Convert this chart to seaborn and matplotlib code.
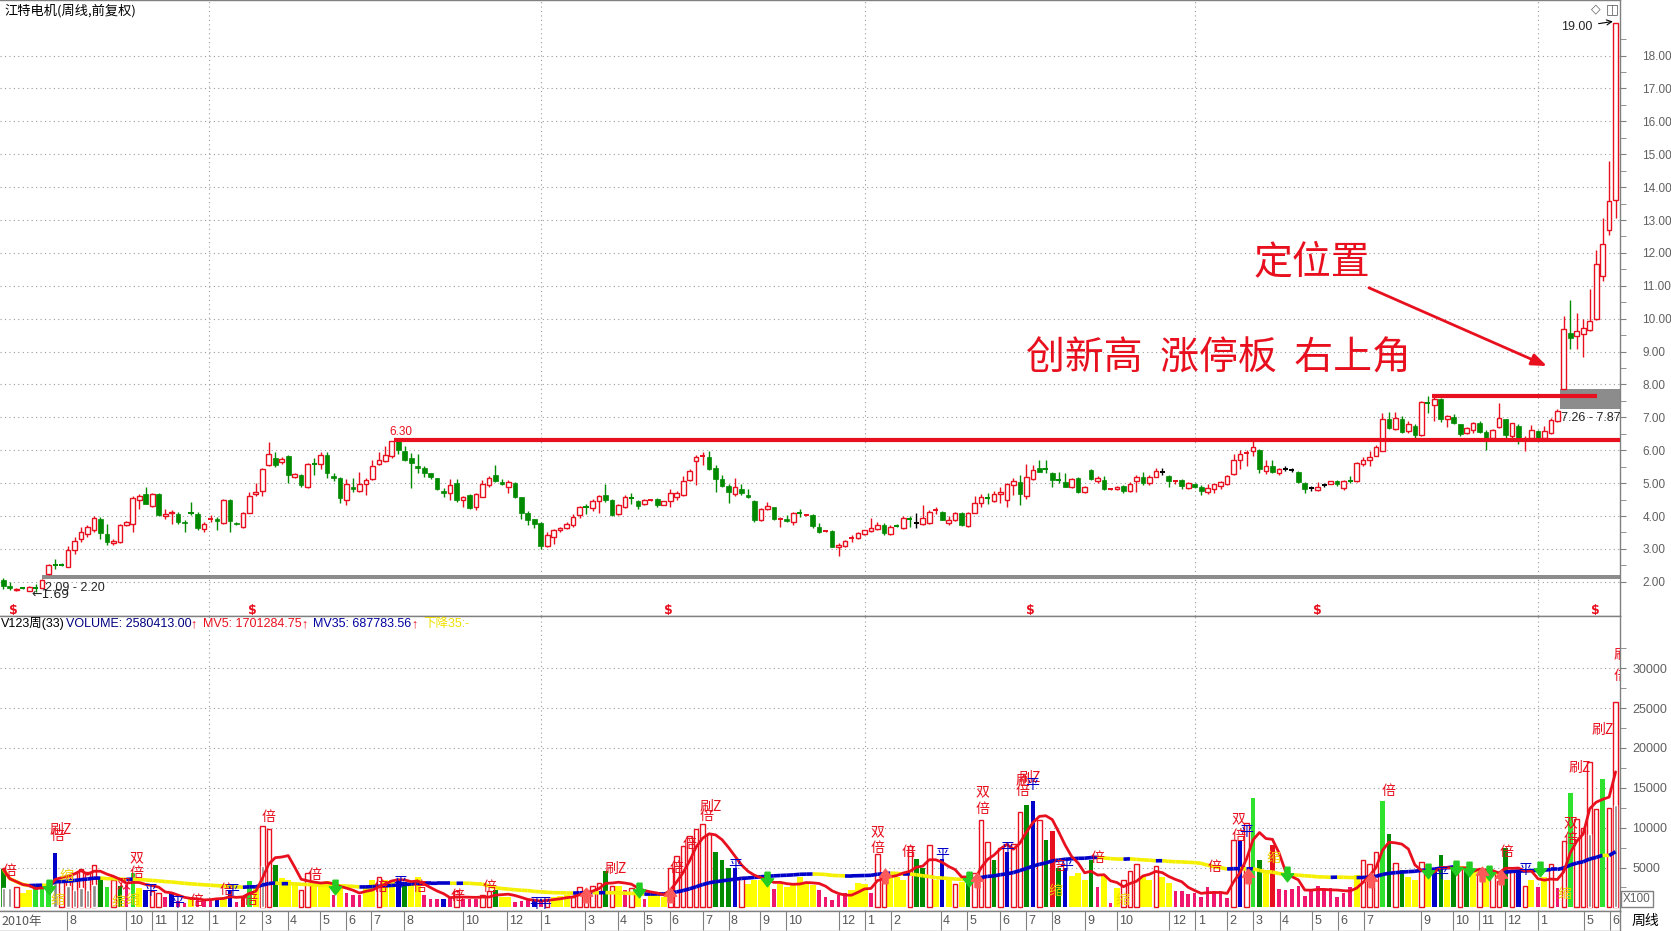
#!/usr/bin/env python3
# -*- coding: utf-8 -*-
"""
江特电机 周线 (前复权) K线 + V123 量能指标, 2010-2015
"""
import numpy as np
import pandas as pd
import seaborn as sns
import matplotlib.pyplot as plt
from matplotlib.collections import LineCollection

sns.set_style('white')
plt.rcParams['font.family'] = ['Noto Sans CJK SC', 'DejaVu Sans']
plt.rcParams['axes.unicode_minus'] = False

# ---------------- weekly candles ----------------
opens = [2.06, 1.88, 1.75, 1.81, 1.73, 1.83, 1.81, 2.24, 2.53, 2.53,
         2.46, 2.97, 3.29, 3.46, 3.58, 3.92, 3.44, 3.18, 3.21, 3.72,
         3.77, 4.50, 4.66, 4.30, 4.67, 3.99, 4.08, 4.07, 3.82, 4.11,
         4.07, 3.62, 3.91, 3.92, 3.79, 4.50, 3.80, 3.67, 4.10, 4.66,
         4.76, 5.54, 5.76, 5.63, 5.84, 5.20, 5.25, 4.87, 5.59, 5.59,
         5.87, 5.22, 5.15, 4.50, 4.89, 4.77, 4.98, 5.12, 5.59, 5.66,
         5.83, 6.27, 5.99, 5.76, 5.53, 5.46, 5.30, 5.15, 4.77, 4.69,
         5.00, 4.50, 4.64, 4.28, 4.59, 4.94, 5.25, 5.03, 4.89, 5.00,
         4.57, 4.08, 3.90, 3.79, 3.08, 3.36, 3.56, 3.65, 3.72, 4.02,
         4.29, 4.23, 4.46, 4.63, 4.50, 4.06, 4.26, 4.55, 4.45, 4.38,
         4.47, 4.52, 4.35, 4.46, 4.59, 4.64, 5.08, 5.66, 5.80, 5.78,
         5.45, 5.13, 4.91, 4.66, 4.82, 4.64, 4.46, 3.87, 4.20, 4.26,
         3.91, 3.90, 3.82, 4.09, 4.01, 4.02, 3.67, 3.52, 3.53, 3.05,
         3.10, 3.32, 3.34, 3.44, 3.54, 3.60, 3.72, 3.46, 3.70, 3.65,
         3.93, 3.79, 3.77, 3.79, 4.17, 4.13, 3.79, 3.89, 4.10, 3.69,
         4.10, 4.40, 4.55, 4.45, 4.67, 4.50, 4.94, 5.03, 4.61, 5.12,
         5.46, 5.45, 5.30, 5.11, 5.03, 4.87, 5.15, 4.72, 5.41, 5.07,
         5.10, 4.82, 4.82, 4.91, 4.77, 5.05, 5.18, 5.00, 5.20, 5.35,
         5.22, 5.06, 5.08, 4.84, 4.98, 4.89, 4.74, 4.81, 4.91, 4.97,
         5.27, 5.69, 5.91, 5.97, 6.02, 5.38, 5.51, 5.30, 5.44, 5.40,
         5.35, 5.00, 4.84, 4.79, 4.94, 4.98, 5.05, 4.84, 5.06, 5.05,
         5.58, 5.69, 5.84, 5.99, 6.96, 6.65, 6.96, 6.58, 6.75, 6.45,
         7.44, 7.37, 7.57, 6.96, 7.02, 6.79, 6.53, 6.61, 6.84, 6.56,
         6.38, 6.71, 6.94, 6.43, 6.75, 6.30, 6.38, 6.60, 6.38, 6.51,
         6.89, 7.87, 9.58, 9.47, 9.54, 9.65, 9.98, 11.30, 12.69, 13.62]
closes = [1.88, 1.81, 1.78, 1.80, 1.85, 1.82, 2.06, 2.51, 2.52, 2.52,
          2.97, 3.24, 3.51, 3.67, 3.94, 3.48, 3.21, 3.24, 3.74, 3.82,
          4.54, 4.60, 4.38, 4.67, 4.02, 4.07, 4.12, 3.82, 3.78, 4.10,
          3.65, 3.75, 3.92, 3.85, 4.50, 3.85, 3.76, 4.10, 4.61, 4.74,
          5.43, 5.89, 5.56, 5.74, 5.25, 5.27, 4.94, 5.58, 5.58, 5.87,
          5.32, 5.17, 4.54, 4.97, 4.81, 4.97, 5.10, 5.52, 5.69, 5.85,
          6.27, 6.00, 5.71, 5.61, 5.46, 5.32, 5.18, 4.82, 4.69, 4.94,
          4.48, 4.59, 4.23, 4.66, 4.97, 5.17, 5.05, 4.98, 5.03, 4.57,
          4.10, 3.87, 3.75, 3.10, 3.41, 3.56, 3.64, 3.77, 3.97, 4.26,
          4.28, 4.46, 4.62, 4.48, 4.02, 4.33, 4.57, 4.54, 4.30, 4.50,
          4.48, 4.33, 4.45, 4.69, 4.69, 5.07, 5.37, 5.78, 5.81, 5.44,
          5.13, 4.91, 4.72, 4.87, 4.69, 4.57, 3.89, 4.21, 4.30, 3.92,
          3.92, 3.85, 4.10, 4.08, 4.02, 3.69, 3.51, 3.53, 3.07, 3.13,
          3.24, 3.33, 3.48, 3.56, 3.64, 3.72, 3.48, 3.67, 3.69, 3.94,
          3.92, 3.79, 3.95, 4.13, 4.18, 3.89, 3.89, 4.10, 3.72, 4.08,
          4.40, 4.59, 4.54, 4.67, 4.74, 4.97, 5.05, 4.66, 5.20, 5.41,
          5.35, 5.44, 5.08, 5.10, 4.89, 5.13, 4.74, 4.89, 5.12, 5.15,
          4.82, 4.83, 4.89, 4.76, 4.98, 5.18, 5.00, 5.18, 5.38, 5.35,
          5.05, 5.07, 4.91, 5.00, 4.87, 4.77, 4.86, 4.97, 5.02, 5.22,
          5.71, 5.90, 5.92, 6.10, 5.43, 5.53, 5.35, 5.43, 5.44, 5.40,
          5.02, 4.81, 4.84, 4.89, 4.94, 5.05, 4.97, 5.05, 5.05, 5.61,
          5.71, 5.79, 6.10, 6.94, 6.68, 6.99, 6.55, 6.80, 6.45, 7.48,
          7.43, 7.57, 6.94, 7.04, 6.82, 6.48, 6.68, 6.82, 6.55, 6.38,
          6.61, 6.99, 6.46, 6.82, 6.33, 6.31, 6.61, 6.35, 6.60, 6.92,
          7.19, 9.68, 9.40, 9.63, 9.71, 9.94, 11.65, 12.26, 13.59, 19.00]
highs = [2.13, 1.98, 1.80, 1.83, 1.87, 1.92, 2.09, 2.54, 2.69, 2.58,
         3.10, 3.36, 3.66, 3.72, 3.99, 3.97, 3.75, 3.31, 3.77, 3.84,
         4.61, 4.67, 4.89, 4.69, 4.69, 4.22, 4.17, 4.12, 3.89, 4.44,
         4.12, 3.82, 4.02, 3.97, 4.53, 4.53, 3.82, 4.12, 4.74, 5.01,
         5.46, 6.26, 5.96, 5.79, 5.86, 5.30, 5.27, 5.61, 5.76, 5.94,
         5.94, 5.30, 5.18, 5.12, 5.17, 5.35, 5.15, 5.69, 5.94, 6.12,
         6.28, 6.30, 6.12, 5.92, 5.88, 5.53, 5.32, 5.17, 4.84, 5.12,
         5.12, 4.61, 4.67, 4.69, 5.10, 5.22, 5.56, 5.12, 5.10, 5.02,
         4.59, 4.16, 3.92, 3.82, 3.51, 3.61, 3.67, 3.82, 4.07, 4.30,
         4.38, 4.53, 4.64, 4.97, 4.53, 4.38, 4.64, 4.69, 4.48, 4.53,
         4.50, 4.56, 4.47, 4.81, 4.76, 5.22, 5.43, 5.86, 5.96, 5.99,
         5.56, 5.25, 4.97, 5.15, 4.97, 4.82, 4.48, 4.23, 4.43, 4.28,
         3.97, 4.02, 4.13, 4.21, 4.05, 4.05, 3.80, 3.56, 3.56, 3.17,
         3.26, 3.41, 3.51, 3.58, 3.95, 3.82, 3.79, 3.72, 3.77, 3.99,
         3.99, 4.10, 4.33, 4.18, 4.28, 4.16, 3.99, 4.13, 4.13, 4.13,
         4.61, 4.66, 4.71, 4.77, 4.89, 5.00, 5.15, 5.25, 5.59, 5.56,
         5.69, 5.69, 5.33, 5.33, 5.30, 5.17, 5.20, 4.92, 5.43, 5.22,
         5.22, 4.86, 4.91, 4.94, 5.02, 5.25, 5.35, 5.25, 5.45, 5.45,
         5.25, 5.10, 5.12, 5.02, 5.00, 4.94, 4.97, 4.98, 5.05, 5.25,
         5.90, 6.00, 6.02, 6.27, 6.04, 5.71, 5.71, 5.46, 5.51, 5.45,
         5.38, 5.02, 4.90, 5.04, 5.00, 5.06, 5.10, 5.10, 5.22, 5.64,
         5.79, 5.97, 6.17, 7.13, 7.17, 7.17, 7.04, 6.88, 6.81, 7.50,
         7.66, 7.63, 7.60, 7.07, 7.09, 6.81, 6.71, 6.86, 6.89, 6.61,
         6.66, 7.43, 6.96, 6.84, 6.79, 6.43, 6.78, 6.63, 6.73, 6.99,
         7.26, 10.09, 10.58, 10.17, 10.00, 10.90, 12.09, 13.07, 14.78, 19.00]
lows = [1.78, 1.74, 1.73, 1.78, 1.72, 1.69, 1.80, 2.20, 2.39, 2.48,
        2.44, 2.85, 3.21, 3.36, 3.51, 3.31, 3.11, 3.11, 3.18, 3.70,
        3.51, 4.21, 4.36, 4.28, 3.99, 3.92, 3.77, 3.77, 3.51, 4.02,
        3.59, 3.51, 3.82, 3.56, 3.77, 3.51, 3.74, 3.65, 4.08, 4.61,
        4.61, 5.51, 5.49, 5.59, 5.00, 5.15, 4.89, 4.84, 5.25, 5.43,
        5.15, 5.05, 4.41, 4.33, 4.74, 4.74, 4.64, 5.08, 5.56, 5.63,
        5.76, 5.89, 5.66, 4.84, 5.30, 5.20, 5.12, 4.79, 4.58, 4.48,
        4.43, 4.28, 4.20, 4.18, 4.57, 4.89, 5.02, 4.95, 4.71, 4.54,
        3.92, 3.72, 3.65, 3.00, 3.05, 3.16, 3.51, 3.62, 3.67, 3.95,
        4.07, 4.16, 4.10, 4.43, 3.99, 4.02, 4.23, 4.36, 4.21, 4.33,
        4.45, 4.28, 4.33, 4.26, 4.49, 4.61, 5.05, 4.94, 5.56, 5.41,
        4.72, 4.89, 4.41, 4.61, 4.64, 4.54, 3.82, 3.85, 4.18, 3.87,
        3.67, 3.82, 3.72, 3.97, 3.99, 3.65, 3.48, 3.50, 3.05, 2.78,
        3.05, 3.21, 3.31, 3.41, 3.51, 3.56, 3.41, 3.43, 3.67, 3.61,
        3.67, 3.64, 3.72, 3.77, 4.06, 3.87, 3.74, 3.85, 3.69, 3.67,
        4.08, 4.26, 4.38, 4.43, 4.41, 4.26, 4.64, 4.33, 4.53, 5.10,
        5.33, 5.30, 4.87, 5.00, 4.87, 4.84, 4.71, 4.69, 5.08, 5.00,
        4.79, 4.79, 4.80, 4.71, 4.74, 4.74, 4.94, 4.94, 5.18, 5.25,
        4.89, 4.97, 4.82, 4.81, 4.84, 4.64, 4.67, 4.69, 4.81, 4.95,
        5.25, 5.43, 5.51, 5.84, 5.31, 5.28, 5.30, 5.25, 5.36, 5.35,
        5.00, 4.69, 4.75, 4.77, 4.88, 4.96, 4.90, 4.79, 5.00, 5.03,
        5.53, 5.51, 5.81, 5.97, 6.65, 6.63, 6.53, 6.53, 6.38, 6.43,
        7.14, 6.89, 6.86, 6.71, 6.79, 6.43, 6.48, 6.53, 6.53, 6.02,
        6.33, 6.68, 6.38, 6.38, 6.20, 5.97, 6.35, 6.31, 6.35, 6.48,
        6.86, 7.87, 9.07, 9.07, 8.82, 9.63, 9.95, 11.16, 12.53, 13.07]

# ---------------- weekly volume (X100) ----------------
vols = [4800, 2400, 2500, 1800, 2200, 2900, 2900, 2700, 6800, 3400,
        3800, 4300, 4800, 4500, 5300, 3800, 2500, 3400, 2700, 2800,
        4300, 2400, 2200, 2000, 1800, 1300, 1800, 800, 600, 1100,
        1100, 1100, 1000, 1100, 1300, 2200, 700, 1300, 3300, 2600,
        10200, 9800, 5300, 3700, 3500, 3000, 2200, 4300, 2900, 2900,
        3300, 1500, 2600, 1800, 1600, 1500, 2600, 3400, 3800, 3400,
        3400, 3400, 3200, 2800, 3800, 1500, 1100, 1100, 1100, 1300,
        2000, 1000, 1000, 1000, 1500, 2000, 2200, 1300, 1300, 700,
        800, 900, 800, 800, 1100, 1300, 1400, 1500, 1300, 2500,
        2200, 2700, 3100, 4600, 2700, 2700, 2200, 2400, 2200, 1100,
        1800, 1500, 1300, 5000, 6400, 7700, 8900, 9900, 10500, 9200,
        7000, 5900, 5000, 5000, 3800, 3000, 3400, 3400, 3600, 2300,
        3000, 2600, 3000, 3800, 3200, 2800, 2200, 1300, 900, 1500,
        1800, 2200, 3100, 3000, 1800, 6700, 3500, 4200, 3800, 3400,
        7700, 6100, 4900, 7800, 3400, 6100, 3500, 2900, 3200, 3400,
        4300, 11000, 8200, 5900, 7400, 7000, 8000, 12000, 12800, 13300,
        11000, 8400, 9600, 5000, 5000, 3900, 4300, 3500, 6000, 2600,
        4100, 500, 2400, 3400, 4600, 5500, 3800, 3500, 5200, 3800,
        3100, 2000, 2000, 1700, 1800, 1300, 2500, 2000, 1800, 1200,
        8500, 8300, 10600, 13700, 5900, 4700, 7800, 2300, 2200, 2300,
        2700, 1400, 2200, 2700, 2300, 2400, 1300, 1800, 2500, 4100,
        6000, 5500, 6900, 13300, 9200, 5600, 4700, 3800, 3400, 5700,
        4500, 4800, 6600, 3400, 5200, 4800, 4800, 4400, 4800, 4500,
        4600, 3300, 7400, 4700, 4700, 2700, 3400, 2500, 3800, 5400,
        2400, 8300, 14300, 11100, 10000, 18200, 12400, 16100, 12500, 25800]
# bar style per week: r hollow red, R red, g dark green, G bright green,
# y yellow, p pink, b blue
vol_kind = ("gGryyGGGbr" "rrrrrgGrgp" "Gybrrpbppy" "pppbybpRGy" "rrgyyyrryy"
            "ypypppyyry" "ybgyypppbp" "rppprrgyyp" "ppbpryyyrr" "rrrgrypryp"
            "yyyrrrrrrr" "gggbryyyyp" "yyyyyypppp" "pyyyprryyy" "rggrybyryg"
            "rrrgrbrrgb" "rgRgbyyygp" "ypyrrryyry" "yppppppppp" "rbrGgyRppp"
            "pppppppppy" "rrrGgrgyyr" "ybgygrgyry" "rrgrbrypyr" "prGrrrrGrr")
gray_week = [0, 1, 8, 10, 11, 12, 13, 14, 40, 245, 249]
gray_vol = [2400, 2400, 3400, 2700, 2200, 2400, 2200, 2800, 5200, 9200, 12900]

# volume signal tags
tag_txt = ['倍', '刷Z', '倍', '双', '双', '倍', '缩', '缩', '缩', '缩', '平', '平',
           '倍', '倍', '平', '倍', '倍', '倍', '倍', '平', '倍', '倍', '倍', '平', '平',
           '刷Z', '倍', '倍', '倍', '刷Z', '平', '双', '倍', '倍', '平', '双', '倍', '平',
           '倍', '刷', '刷Z', '平', '缩', '倍', '平', '倍', '缩', '倍', '双', '倍', '平',
           '缩', '倍', '平', '倍', '平', '缩', '双', '倍', '刷Z', '刷Z', '刷', '倍']
tag_week = [0.9, 8.8, 8.3, 18.6, 20.5, 20.5, 8.3, 9.7, 17.8, 20.0, 22.7, 26.9,
            29.9, 34.5, 35.3, 38.2, 41.0, 48.0, 58.2, 61.3, 64.2, 70.1, 75.1, 82.3, 83.5,
            94.5, 104.0, 106.0, 108.6, 109.2, 113.0, 135.0, 135.0, 139.8, 145.0, 151.2, 151.2, 155.0,
            157.4, 157.4, 158.5, 158.9, 162.5, 163.0, 164.2, 169.0, 172.9, 187.0, 190.7, 190.7, 191.9,
            196.1, 214.0, 222.0, 232.1, 235.0, 241.1, 242.1, 242.1, 243.5, 247.0, 249.8, 249.8]
tag_vol = [4600, 9700, 9000, 2900, 6200, 4300, 900, 3900, 700, 900, 2100, 600,
           800, 2200, 2000, 900, 11300, 4100, 2600, 3100, 2600, 1400, 2600, 400, 400,
           4800, 5000, 7900, 11500, 12600, 5200, 9400, 7400, 7000, 6600, 14400, 12400, 7300,
           14600, 15800, 16200, 15300, 2000, 5200, 5200, 6200, 900, 5100, 11000, 9000, 9500,
           6200, 14600, 4200, 7000, 4700, 1700, 10600, 8600, 17500, 22200, 31700, 29000]
tag_kind = ("rrrrrryyyybb" "rrbrrrrbrrrbb" "rrrrrbrrrbrrb" "rrrbyrbryrrrb"
            "yrbrbyrrrrrr")

up_week = [90.0, 103.0, 136.2, 150.4, 192.2, 211.2, 228.3, 231.3]
up_vol = [1500, 1500, 4000, 3500, 3900, 3400, 4200, 3800]
down_week = [7.0, 51.3, 98.1, 117.9, 149.2, 198.2, 220.1, 224.3, 226.3, 229.5, 237.4]
down_vol = [2600, 2600, 2200, 3600, 3600, 4200, 4600, 4900, 4800, 4300, 4800]

# x axis (month starts, week position)
month_pos = [9.8, 19.0, 23.0, 26.9, 31.8, 35.9, 40.0, 43.9, 48.9, 52.9, 56.8, 61.9,
             71.0, 77.8, 83.0, 89.9, 94.9, 98.9, 102.9, 108.0, 112.0, 116.9, 120.9, 129.1,
             133.1, 137.1, 144.8, 148.9, 154.0, 157.9, 161.9, 167.0, 172.0, 180.1, 184.1,
             189.0, 193.0, 197.1, 202.1, 206.1, 210.1, 219.0, 223.9, 227.9, 231.9, 237.0,
             244.1, 248.1]
month_lbl = ['8', '10', '11', '12', '1', '2', '3', '4', '5', '6', '7', '8',
             '10', '12', '1', '3', '4', '5', '6', '7', '8', '9', '10', '12',
             '1', '2', '4', '5', '6', '7', '8', '9', '10', '12', '1',
             '2', '3', '4', '5', '6', '7', '9', '10', '11', '12', '1',
             '5', '6']
year_pos = [31.8, 83.0, 133.1, 184.1, 237.0]
dollar_pos = [1.6, 38.5, 102.7, 158.6, 202.9, 245.9]

RED = '#e8101e'
GREEN = '#008a00'
BRIGHT = '#2ee22e'
YELLOW = '#ffff00'
PINK = '#f0186e'
BLUE = '#0000c8'
GRID = '#9a9a9a'
FRAME = '#808080'
SMALL = ['Liberation Sans', 'Noto Sans CJK SC']

df = pd.DataFrame(dict(o=opens, c=closes, h=highs, l=lows, v=vols, k=list(vol_kind)))
df['x'] = np.arange(len(df))

W, H = 1671, 931
fig = plt.figure(figsize=(W / 100, H / 100), dpi=100)


def caixa(x0, y0, x1, y1):
    return [x0 / W, 1 - y1 / H, (x1 - x0) / W, (y1 - y0) / H]


ax = fig.add_axes(caixa(0, 0, 1620, 616))
axv = fig.add_axes(caixa(0, 616, 1620, 911))
axd = fig.add_axes(caixa(0, 911, 1620, 931))
XMIN, XMAX = -0.51, 249.68
for a in (ax, axv, axd):
    a.set_xlim(XMIN, XMAX)
    a.set_xticks([])
    a.set_facecolor('white')
    for s in a.spines.values():
        s.set_color(FRAME)
        s.set_linewidth(1)
    a.spines['left'].set_visible(False)

# ---------------- price panel ----------------
ax.set_ylim(0.96, 19.69)
for p in range(2, 19):
    ax.axhline(p, color=GRID, lw=0.8, ls=(0, (1, 3)), zorder=0)
for xp in year_pos:
    ax.axvline(xp, color=GRID, lw=0.8, ls=(0, (1, 3)), zorder=0)
    axv.axvline(xp, color=GRID, lw=0.8, ls=(0, (1, 3)), zorder=0)

# gap bands
ax.fill_between([6.0, XMAX], 2.09, 2.20, color='#8c8c8c', lw=0, zorder=1)
ax.fill_between([240.4, XMAX], 7.26, 7.87, color='#8c8c8c', lw=0, zorder=1)

up = df[df.c - df.o > 0.015]
dn = df[df.o - df.c > 0.015]
dj = df[(df.c - df.o).abs() <= 0.015]
ax.vlines(up.x, up.c, up.h, color=RED, lw=1, zorder=3)
ax.vlines(up.x, up.l, up.o, color=RED, lw=1, zorder=3)
ax.bar(up.x, up.c - up.o, bottom=up.o, width=0.72, facecolor='white',
       edgecolor=RED, linewidth=1, zorder=3)
ax.vlines(dn.x, dn.l, dn.h, color=GREEN, lw=1, zorder=3)
ax.bar(dn.x, dn.o - dn.c, bottom=dn.c, width=0.72, color=GREEN,
       edgecolor=GREEN, linewidth=0.5, zorder=3)
dj_col = np.where(dj.c > dj.o, RED, np.where(dj.c < dj.o, GREEN, 'black'))
ax.vlines(dj.x, dj.l, dj.h, colors=dj_col, lw=1, zorder=3)
ax.hlines(dj.c, dj.x - 0.4, dj.x + 0.4, colors=dj_col, lw=1.4, zorder=3)

# support / resistance lines
ax.hlines(6.30, 60.3, XMAX, color=RED, lw=3, zorder=4)
ax.hlines(7.65, 220.6, 246.2, color=RED, lw=3, zorder=4)

ax.yaxis.tick_right()
ax.set_yticks(range(2, 19))
ax.set_yticklabels([f'{p:.2f}' for p in range(2, 19)], family=SMALL)
ax.set_yticks(np.arange(2.5, 19, 1.0), minor=True)
ax.tick_params(axis='y', which='both', direction='out', length=4, color=FRAME,
               labelcolor='#606060', labelsize=8.5, pad=12, right=True, left=False)

ax.text(0.2, 19.37, '江特电机(周线,前复权)', fontsize=9.5, color='black', va='center')
ax.text(59.7, 6.56, '6.30', fontsize=8.5, color=RED, va='center', family=SMALL)
ax.text(6.4, 1.82, '2.09 - 2.20', fontsize=9, va='center', family=SMALL)
ax.text(4.4, 1.62, '←1.69', fontsize=9, va='center', family=['DejaVu Sans'])
ax.text(240.6, 6.98, '7.26 - 7.87', fontsize=9, va='center', family=SMALL)
ax.annotate('19.00', xy=(249.0, 19.05), xytext=(240.6, 18.87), fontsize=9,
            va='center', family=SMALL,
            arrowprops=dict(arrowstyle='->', color='black', lw=0.8))
for xp in dollar_pos:
    ax.text(xp, 1.14, '$', color=RED, fontsize=9, fontweight='bold',
            ha='center', va='center', family=['DejaVu Sans'])

ax.text(202.1, 11.73, '定位置', fontsize=28, color=RED, ha='center', va='center')
ax.text(157.9, 8.79, '创新高  涨停板  右上角', fontsize=28, color=RED, ha='left', va='center')
ax.annotate('', xy=(238.4, 8.56), xytext=(210.9, 10.94),
            arrowprops=dict(arrowstyle='-|>,head_length=0.9,head_width=0.35',
                            color=RED, lw=2, shrinkA=0, shrinkB=0))

# ---------------- volume panel ----------------
axv.set_ylim(-450, 36560)
for vgrid in range(5000, 35000, 5000):
    axv.axhline(vgrid, color=GRID, lw=0.8, ls=(0, (1, 3)), zorder=0)

style = {'y': dict(color=YELLOW, width=0.95),
         'p': dict(color=PINK, width=0.55),
         'g': dict(color=GREEN, width=0.7),
         'G': dict(color=BRIGHT, width=0.7),
         'b': dict(color=BLUE, width=0.7),
         'R': dict(color=RED, width=0.7)}
for kind, kw in style.items():
    part = df[df.k == kind]
    axv.bar(part.x, part.v, zorder=2, linewidth=0, **kw)
hol = df[df.k == 'r']
axv.bar(hol.x, hol.v, width=0.7, facecolor='white', edgecolor=RED, linewidth=1, zorder=2)
axv.bar(gray_week, gray_vol, width=0.5, color='#8a8a8a', zorder=2.5)

df['mv5'] = df.v.rolling(5, min_periods=1).mean()
df['mv35'] = df.v.rolling(35, min_periods=1).mean()
pts = df[['x', 'mv35']].to_numpy()
segs = np.stack([pts[:-1], pts[1:]], axis=1)
seg_col = np.where(np.diff(df.mv35) >= 0, BLUE, '#f4f000')
axv.add_collection(LineCollection(segs, colors=seg_col, linewidths=2.6, zorder=3))
sns.lineplot(data=df, x='x', y='mv5', ax=axv, color=RED, lw=2, legend=False,
             errorbar=None, zorder=4)
axv.set_xlabel('')
axv.set_ylabel('')

down_arrow = [(-0.35, 1), (0.35, 1), (0.35, 0.1), (0.85, 0.1), (0, -1),
              (-0.85, 0.1), (-0.35, 0.1), (-0.35, 1)]
up_arrow = [(vx, -vy) for vx, vy in down_arrow]
axv.scatter(down_week, down_vol, marker=down_arrow, s=110, color='#22cc22', zorder=6)
axv.scatter(up_week, up_vol, marker=up_arrow, s=110, color='#ff5a5a', zorder=6)

tag_col = {'r': RED, 'b': BLUE, 'y': '#eed000'}
for t, xw, yv, kc in zip(tag_txt, tag_week, tag_vol, tag_kind):
    axv.text(xw, yv, t, color=tag_col[kc], fontsize=10, ha='center', va='center',
             zorder=7, clip_on=True)

axv.yaxis.tick_right()
axv.set_yticks(range(5000, 35000, 5000))
axv.set_yticklabels([str(v) for v in range(5000, 35000, 5000)], family=SMALL)
axv.set_yticks(range(2500, 35000, 5000), minor=True)
axv.tick_params(axis='y', which='both', direction='out', length=4, color=FRAME,
                labelcolor='#606060', labelsize=9, pad=5, right=True, left=False)


def fig_text(px, py, s, **kw):
    fig.text(px / W, 1 - py / H, s, va='center', **kw)


header = [(1, 'V123周(33)', 'black'), (66, 'VOLUME: 2580413.00', '#000080'),
          (190, '↑', RED), (203, 'MV5: 1701284.75', RED), (301, '↑', RED),
          (313, 'MV35: 687783.56', '#0000a0'), (411, '↑', RED), (423, '下降35:-', '#f0e000')]
for px, s, col in header:
    fig_text(px, 624, s, color=col, fontsize=9, family=SMALL + ['DejaVu Sans'])

fig_text(1623, 899, 'X100', color='#606060', fontsize=8.5, family=SMALL,
         bbox=dict(boxstyle='square,pad=0.15', facecolor='white', edgecolor=FRAME, lw=1))
fig_text(1632, 921, '周线', color='black', fontsize=10)
fig_text(1591, 9, '◇', color='#606060', fontsize=9, family=['DejaVu Sans'])
fig_text(1606, 9, '◫', color='#606060', fontsize=10, family=['DejaVu Sans'])

# ---------------- date strip ----------------
axd.set_ylim(0, 1)
axd.set_yticks([])
axd.vlines(month_pos, 0.05, 1, color=FRAME, lw=0.8)
for xp, lb in zip(month_pos, month_lbl):
    axd.text(xp + 0.35, 0.5, lb, fontsize=9, color='#555555', va='center', ha='left',
             family=SMALL)
axd.text(-0.3, 0.5, '2010年', fontsize=9, color='#555555', va='center', ha='left')

fig.savefig('out.png', dpi=100)
